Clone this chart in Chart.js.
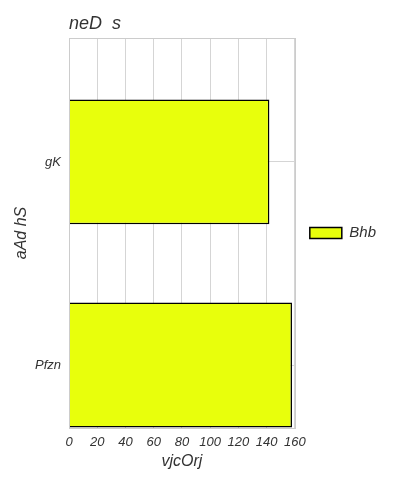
<!DOCTYPE html>
<html><head><meta charset="utf-8">
<script src="https://cdn.jsdelivr.net/npm/chart.js@4/dist/chart.umd.min.js"></script>
<style>html,body{margin:0;padding:0;background:#fff}#wrap{width:414px;height:483px}</style>
</head><body><div id="wrap"><canvas id="c" width="414" height="483"></canvas></div>
<script>
const categories = ["gK", "Pfzn"];
const seriesName = "Bhb";
const values = [142, 158];
const xTicks = [0, 20, 40, 60, 80, 100, 120, 140, 160];
const chartTitle = "neD  s";
const xTitle = "vjcOrj";
const yTitle = "aAd hS";

const FONT = "'Liberation Sans', Arial, sans-serif";
const TXT = '#333333';

const titlePlugin = {
  id: 'leftTitle',
  afterDraw(chart) {
    const {ctx, chartArea} = chart;
    ctx.save();
    ctx.font = 'italic 18px ' + FONT;
    ctx.fillStyle = TXT;
    ctx.textAlign = 'left';
    ctx.textBaseline = 'alphabetic';
    ctx.fillText(chartTitle, chartArea.left, 29);
    ctx.strokeStyle = '#cccccc';
    ctx.lineWidth = 1;
    ctx.strokeRect(Math.round(chartArea.left) + 0.5, Math.round(chartArea.top) + 0.5,
      Math.round(chartArea.right - chartArea.left), Math.round(chartArea.bottom - chartArea.top));
    ctx.restore();
  }
};

new Chart(document.getElementById('c'), {
  type: 'bar',
  data: {
    datasets: [{
      label: seriesName,
      data: values.map((v, i) => ({x: v, y: i})),
      backgroundColor: '#e8ff0c',
      borderColor: '#000000',
      borderWidth: 1.5,
      barPercentage: 0.615,
      categoryPercentage: 1
    }]
  },
  options: {
    indexAxis: 'y',
    responsive: false,
    animation: false,
    layout: {padding: {top: 38, left: 0, right: 28, bottom: 0}},
    scales: {
      x: {
        type: 'linear', min: 0, max: 160, offset: false,
        afterBuildTicks: (s) => { s.ticks = xTicks.map(v => ({value: v})); },
        afterFit: (s) => { s.height = 55; },
        grid: {color: '#d5d5d5', drawTicks: false, offset: false},
        border: {display: false},
        ticks: {padding: 7, color: TXT, font: {family: FONT, style: 'italic', size: 13}},
        title: {display: true, text: xTitle, color: TXT, padding: {top: 0, bottom: 12}, font: {family: FONT, style: 'italic', size: 16}}
      },
      y: {
        type: 'linear', reverse: true, min: -0.61, max: 1.31, offset: false,
        afterBuildTicks: (s) => { s.ticks = categories.map((c, i) => ({value: i})); },
        afterFit: (s) => { s.width = 69; },
        grid: {color: '#d5d5d5', drawTicks: false, offset: false},
        border: {display: false},
        ticks: {padding: 8, color: TXT, callback: (v) => categories[v], font: {family: FONT, style: 'italic', size: 13}},
        title: {display: true, text: yTitle, color: TXT, padding: {top: 12, bottom: 0}, font: {family: FONT, style: 'italic', size: 16}}
      }
    },
    plugins: {
      legend: {
        position: 'right',
        fullSize: false,
        labels: {boxWidth: 32, boxHeight: 11, color: TXT, padding: 15, font: {family: FONT, style: 'italic', size: 15}}
      },
      tooltip: {enabled: false}
    }
  },
  plugins: [titlePlugin]
});
</script>
</body></html>
